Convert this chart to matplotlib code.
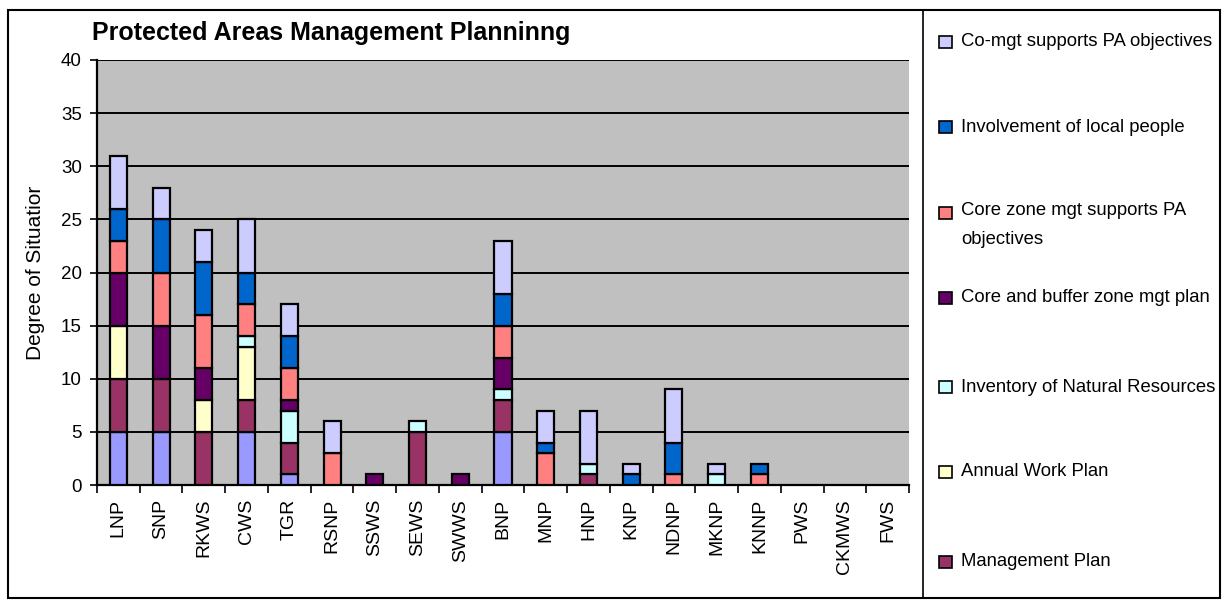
import numpy as np
import matplotlib
matplotlib.use('Agg')
import matplotlib.pyplot as plt
from matplotlib.patches import Rectangle

plt.rcParams['font.family'] = ['Liberation Sans', 'DejaVu Sans']

sites = ['LNP', 'SNP', 'RKWS', 'CWS', 'TGR', 'RSNP', 'SSWS', 'SEWS', 'SWWS', 'BNP',
         'MNP', 'HNP', 'KNP', 'NDNP', 'MKNP', 'KNNP', 'PWS', 'CKMWS', 'FWS']

# stacked from bottom to top
boundary    = [5, 5, 0, 5, 1, 0, 0, 0, 0, 5, 0, 0, 0, 0, 0, 0, 0, 0, 0]
mgmt_plan   = [5, 5, 5, 3, 3, 0, 0, 5, 0, 3, 0, 1, 0, 0, 0, 0, 0, 0, 0]
annual_plan = [5, 0, 3, 5, 0, 0, 0, 0, 0, 0, 0, 0, 0, 0, 0, 0, 0, 0, 0]
inventory   = [0, 0, 0, 1, 3, 0, 0, 1, 0, 1, 0, 1, 0, 0, 1, 0, 0, 0, 0]
core_buffer = [5, 5, 3, 0, 1, 0, 1, 0, 1, 3, 0, 0, 0, 0, 0, 0, 0, 0, 0]
core_zone   = [3, 5, 5, 3, 3, 3, 0, 0, 0, 3, 3, 0, 0, 1, 0, 1, 0, 0, 0]
involvement = [3, 5, 5, 3, 3, 0, 0, 0, 0, 3, 1, 0, 1, 3, 0, 1, 0, 0, 0]
co_mgt      = [5, 3, 3, 5, 3, 3, 0, 0, 0, 5, 3, 5, 1, 5, 1, 0, 0, 0, 0]

series = [
    (boundary, '#9999FF', None),
    (mgmt_plan, '#993366', 'Management Plan'),
    (annual_plan, '#FFFFCC', 'Annual Work Plan'),
    (inventory, '#CCFFFF', 'Inventory of Natural Resources'),
    (core_buffer, '#660066', 'Core and buffer zone mgt plan'),
    (core_zone, '#FF8080', 'Core zone mgt supports PA\nobjectives'),
    (involvement, '#0066CC', 'Involvement of local people'),
    (co_mgt, '#CCCCFF', 'Co-mgt supports PA objectives'),
]

W, H = 1226, 600
fig = plt.figure(figsize=(W / 100, H / 100), dpi=100)
ax = fig.add_axes([97 / W, 1 - 485 / H, (909 - 97) / W, (485 - 60) / H])
ax.set_facecolor('#C0C0C0')

x = np.arange(len(sites))
bottom = np.zeros(len(sites))
for vals, color, label in series:
    v = np.array(vals, dtype=float)
    nz = v > 0
    ax.bar(x[nz], v[nz], 0.4, bottom=bottom[nz], color=color, edgecolor='black',
           linewidth=1.6, zorder=3)
    bottom += v

ax.set_xlim(-0.5, len(sites) - 0.5)
ax.set_ylim(0, 40)
ax.set_yticks(range(0, 41, 5))
ax.yaxis.grid(True, color='black', linewidth=1.4, zorder=1)
ax.set_xticks(x)
ax.set_xticklabels(sites, rotation=90, fontsize=14)
ax.tick_params(axis='x', length=0, pad=10)
ax.set_xticks(np.arange(-0.5, len(sites), 1), minor=True)
ax.tick_params(axis='x', which='minor', length=6, width=1.2, direction='out')
ax.tick_params(axis='y', labelsize=13.5, length=5, width=1.2, direction='out', pad=6)
for s in ['top', 'right']:
    ax.spines[s].set_visible(False)
ax.spines['left'].set_linewidth(1.6)
ax.spines['bottom'].set_linewidth(1.6)
ax.set_ylabel('Degree of Situatior', fontsize=15, labelpad=11)

fig.text(92 / W, 1 - 33 / H, 'Protected Areas Management Planninng', fontsize=18,
         fontweight='bold', va='center', ha='left')

# outer border and legend box
fig.patches.append(Rectangle((8 / W, 1 - 598 / H), (1220 - 8) / W, (598 - 10) / H,
                             transform=fig.transFigure, fill=False, edgecolor='black', linewidth=1.5))
fig.add_artist(plt.Line2D([923 / W, 923 / W], [1 - 598 / H, 1 - 10 / H],
                          transform=fig.transFigure, color='black', linewidth=1.2))

leg_y = [42, 127, 213, 298, 387, 472, 562]
entries = [s for s in series if s[2] is not None][::-1]
for (vals, color, label), yp in zip(entries, leg_y):
    fig.patches.append(Rectangle((939 / W, 1 - (yp + 6) / H), 13 / W, 12 / H,
                                 transform=fig.transFigure, facecolor=color,
                                 edgecolor='black', linewidth=1.2))
    if '\n' in label:
        fig.text(961 / W, 1 - (yp - 11) / H, label, fontsize=13.3, va='top', ha='left',
                 linespacing=1.9)
    else:
        fig.text(961 / W, 1 - yp / H, label, fontsize=13.3, va='center', ha='left')

fig.savefig('out.png', dpi=100)
